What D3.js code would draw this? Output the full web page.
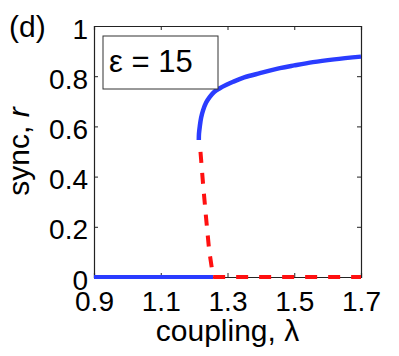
<!DOCTYPE html>
<html>
<head>
<meta charset="utf-8">
<script src="https://cdn.jsdelivr.net/npm/d3@7"></script>
<style>
  body { margin: 0; background: #fff; }
  svg text { font-family: "Liberation Sans", Arial, Helvetica, sans-serif; fill: #000; }
</style>
</head>
<body>
<div id="chart"></div>
<script>
const WIDTH = 399;
const HEIGHT = 356;
const LEFT = 94;
const RIGHT = 361;
const TOP = 26;
const BOTTOM = 277;

// tick values
const xTicks = [0.9, 1.1, 1.3, 1.5, 1.7];
const yTicks = [0, 0.2, 0.4, 0.6, 0.8, 1];

// stable incoherent branch (r = 0)
const lowLambda = [0.9, 1.257];
const lowR = [0, 0];

// stable synchronised branch
const upLambda = [1.214, 1.2145, 1.217, 1.221, 1.227, 1.236, 1.247, 1.26, 1.277, 1.297, 1.317, 1.35, 1.397, 1.457, 1.5, 1.556, 1.62, 1.7];
const upR = [0.546, 0.57, 0.60, 0.635, 0.665, 0.695, 0.718, 0.737, 0.752, 0.766, 0.778, 0.795, 0.812, 0.832, 0.843, 0.856, 0.867, 0.878];

// unstable branches
const midLambda = [1.215, 1.219, 1.227, 1.235, 1.245, 1.257];
const midR = [0.53, 0.5, 0.367, 0.247, 0.107, 0];
const flatLambda = [1.257, 1.7];
const flatR = [0, 0];

const zip = (xs, ys) => xs.map((x, i) => ({x: x, y: ys[i]}));

let svg = d3.select('#chart').append('svg')
  .attr('width', WIDTH)
  .attr('height', HEIGHT);

let xScale = d3.scaleLinear().domain([0.9, 1.7]).range([LEFT, RIGHT]);
let yScale = d3.scaleLinear().domain([0, 1]).range([BOTTOM, TOP]);

function buildAxes() {
  let axisGroup = svg.append('g').attr('class', 'axisGroup');

  axisGroup.append('g')
    .attr('transform', `translate(0, ${BOTTOM})`)
    .call(d3.axisBottom(xScale).tickValues(xTicks).tickSize(-4).tickPadding(14).tickFormat(d3.format('.1f')));

  let left = axisGroup.append('g')
    .attr('transform', `translate(${LEFT}, 0)`)
    .call(d3.axisLeft(yScale).tickValues(yTicks).tickSize(-4).tickPadding(6).tickFormat((d) => d === 0 || d === 1 ? String(d) : d3.format('.1f')(d)));

  axisGroup.append('g')
    .attr('transform', `translate(0, ${TOP})`)
    .call(d3.axisTop(xScale).tickValues(xTicks).tickSize(-4).tickFormat(''));

  axisGroup.append('g')
    .attr('transform', `translate(${RIGHT}, 0)`)
    .call(d3.axisRight(yScale).tickValues(yTicks).tickSize(-4).tickFormat(''));

  axisGroup.selectAll('.domain').attr('stroke', '#222').attr('stroke-width', 1.2);
  axisGroup.selectAll('.tick line').attr('stroke', '#222');
  axisGroup.selectAll('text')
    .attr('font-size', 28)
    .style('font-family', '"Liberation Sans", Arial, sans-serif');
  left.selectAll('text').attr('dy', '0.43em');
}

function buildLines() {
  let line = d3.line()
    .x((d) => xScale(d.x))
    .y((d) => yScale(d.y));

  let lineGroup = svg.append('g').attr('class', 'lineGroup').attr('fill', 'none');

  lineGroup.append('path')
    .datum(zip(lowLambda, lowR))
    .attr('d', line)
    .attr('stroke', '#2a3cff')
    .attr('stroke-width', 4);

  lineGroup.append('path')
    .datum(zip(upLambda, upR))
    .attr('d', line.curve(d3.curveCatmullRom.alpha(0.5)))
    .attr('stroke', '#2a3cff')
    .attr('stroke-width', 4.5);

  line.curve(d3.curveLinear);

  lineGroup.append('path')
    .datum(zip(midLambda, midR))
    .attr('d', line)
    .attr('stroke', '#ff1010')
    .attr('stroke-width', 4)
    .attr('stroke-dasharray', '11,10')
    .attr('stroke-dashoffset', -8);

  lineGroup.append('path')
    .datum(zip(flatLambda, flatR))
    .attr('d', line)
    .attr('stroke', '#ff1010')
    .attr('stroke-width', 4)
    .attr('stroke-dasharray', '12,11');
}

function buildMeta() {
  svg.append('text')
    .attr('x', 9)
    .attr('y', 37)
    .attr('font-size', 30)
    .text('(d)');

  svg.append('text')
    .attr('text-anchor', 'middle')
    .attr('x', (LEFT + RIGHT) / 2)
    .attr('y', 341)
    .attr('font-size', 30)
    .text('coupling, λ');

  let yLabel = svg.append('text')
    .attr('text-anchor', 'middle')
    .attr('transform', `translate(29, ${(TOP + BOTTOM) / 2}) rotate(-90)`)
    .attr('font-size', 30);
  yLabel.append('tspan').text('sync, ');
  yLabel.append('tspan').attr('font-style', 'italic').text('r');

  svg.append('rect')
    .attr('x', 103)
    .attr('y', 36)
    .attr('width', 115)
    .attr('height', 53)
    .attr('fill', '#fff')
    .attr('stroke', '#333')
    .attr('stroke-width', 1);

  svg.append('text')
    .attr('x', 109)
    .attr('y', 72)
    .attr('font-size', 31)
    .text('ε = 15');
}

buildAxes();
buildLines();
buildMeta();
</script>
</body>
</html>
